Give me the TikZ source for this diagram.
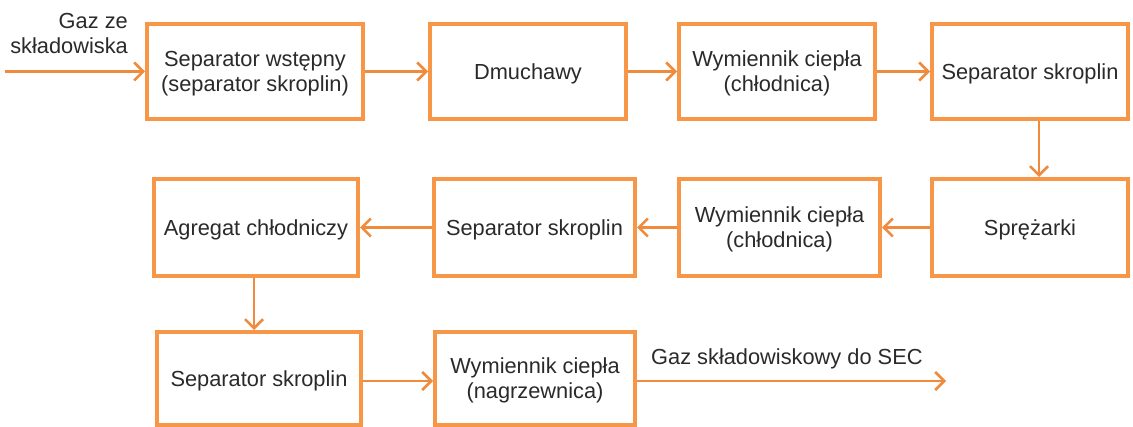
\documentclass[tikz,border=0pt]{standalone}
\usepackage{fontspec}
\setmainfont{Liberation Sans}
\usetikzlibrary{arrows.meta}
\definecolor{boxor}{HTML}{F79646}
\definecolor{arror}{HTML}{F08A3C}
\definecolor{txt}{HTML}{2A2A2A}
\begin{document}
\begin{tikzpicture}[x=1pt,y=-1pt,
  box/.style={draw=boxor, line width=4pt, rectangle, inner sep=0pt, align=center, text=txt,
    text depth=0pt, font=\fontsize{21.8}{25}\selectfont},
  twoline/.style={text depth=-5pt},
  arr/.style={draw=arror, line width=2.5pt, -{Straight Barb[length=9pt,width=18pt,line width=2.5pt]}},
  lbl/.style={text=txt, inner sep=0pt, font=\fontsize{21.8}{25}\selectfont}]
\fill[white] (0,0) rectangle (1133,427);
\useasboundingbox (0,0) rectangle (1133,427);
% row 1
\node[box, twoline, minimum width=216pt, minimum height=95pt] (b1) at (255,71.5) {Separator wstępny\\(separator skroplin)};
\node[box, minimum width=196pt, minimum height=95pt] (b2) at (528,71.5) {Dmuchawy};
\node[box, twoline, minimum width=196pt, minimum height=95pt] (b3) at (777,71.5) {Wymiennik ciepła\\(chłodnica)};
\node[box, minimum width=196pt, minimum height=95pt] (b4) at (1030,71.5) {Separator skroplin};
% row 2
\node[box, minimum width=196pt, minimum height=97pt] (b8) at (1030,227.5) {Sprężarki};
\node[box, twoline, minimum width=201pt, minimum height=97pt] (b7) at (779.5,227.5) {Wymiennik ciepła\\(chłodnica)};
\node[box, minimum width=201pt, minimum height=97pt] (b6) at (534.5,227.5) {Separator skroplin};
\node[box, minimum width=204pt, minimum height=97pt] (b5) at (256,227.5) {Agregat chłodniczy};
% row 3
\node[box, minimum width=204pt, minimum height=93pt] (b9) at (259,378.5) {Separator skroplin};
\node[box, twoline, minimum width=200pt, minimum height=93pt] (b10) at (535,378.5) {Wymiennik ciepła\\(nagrzewnica)};
% labels
\node[lbl, anchor=east, align=right] (lin) at (128,33.5) {Gaz ze\\składowiska};
\node[lbl, anchor=west] (lout) at (651,359) {Gaz składowiskowy do SEC};
\coordinate (in) at (5,71.5);
\coordinate (out) at (946,381);
% connectors
\draw[arr] (in) -- (b1.west);
\draw[arr] (b1) -- (b2);
\draw[arr] (b2) -- (b3);
\draw[arr] (b3) -- (b4);
\draw[arr] ([xshift=9pt]b4.south) -- ([xshift=9pt]b8.north);
\draw[arr] (b8) -- (b7);
\draw[arr] (b7) -- (b6);
\draw[arr] (b6) -- (b5);
\draw[arr] ([xshift=-2pt]b5.south) -- ([xshift=-2pt]b5.south |- b9.north);
\draw[arr] ([yshift=-2.5pt]b9.east) -- ([yshift=-2.5pt]b10.west);
\draw[arr] ([yshift=-2.5pt]b10.east) -- (out);
\end{tikzpicture}
\end{document}
